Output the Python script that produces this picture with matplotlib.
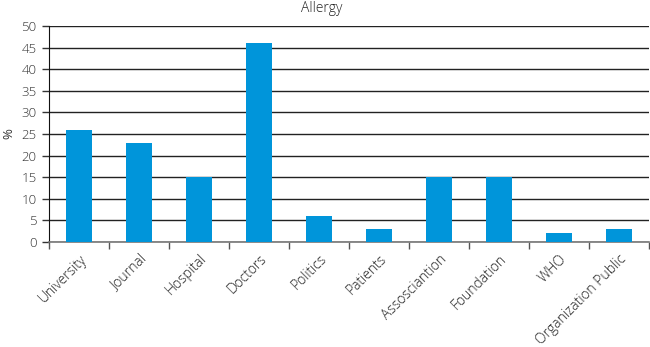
import matplotlib.pyplot as plt
import numpy as np

categories = ["University", "Journal", "Hospital", "Doctors", "Politics",
              "Patients", "Assosciantion", "Foundation", "WHO",
              "Organization Public"]
values = [26, 23, 15, 46, 6, 3, 15, 15, 2, 3]
yticks = [0, 5, 10, 15, 20, 25, 30, 35, 40, 45, 50]

plt.rcParams["font.family"] = ["Open Sans", "DejaVu Sans"]
plt.rcParams["font.weight"] = "light"

fig = plt.figure(figsize=(6.5, 3.47), dpi=100)
ax = fig.add_axes([49 / 650, 1 - 242 / 347, 600 / 650, 216 / 347])

x = np.arange(len(categories))
ax.bar(x, values, width=0.42, color="#0095da", zorder=3)

ax.set_xlim(-0.5, len(categories) - 0.5)
ax.set_ylim(0, 50)
ax.set_yticks(yticks)
ax.set_yticklabels([str(v) for v in yticks], fontsize=9.5, color="#333333")
ax.yaxis.grid(True, color="#222222", linewidth=1.0, zorder=0)
ax.set_axisbelow(True)

# category labels centred under bars, ticks on the category boundaries
ax.set_xticks(x)
ax.set_xticklabels(categories, rotation=45, ha="right", rotation_mode="anchor",
                   fontsize=10, color="#222222")
ax.tick_params(axis="x", length=0, pad=7)
ax.set_xticks(np.arange(len(categories) + 1) - 0.5, minor=True)
ax.tick_params(axis="x", which="minor", length=5, width=1, color="#555555")
ax.tick_params(axis="y", length=5, width=1, color="#333333", pad=4)

for side in ["top", "right"]:
    ax.spines[side].set_visible(False)
ax.spines["left"].set_color("#111111")
ax.spines["bottom"].set_color("#777777")
ax.spines["bottom"].set_linewidth(1.2)

ax.set_ylabel("%", fontsize=9.5, color="#333333", labelpad=4)
fig.text(0.495, 1 - 8 / 347, "Allergy", ha="center", va="center",
         fontsize=10, color="#222222")

fig.savefig("out.png", dpi=100)
